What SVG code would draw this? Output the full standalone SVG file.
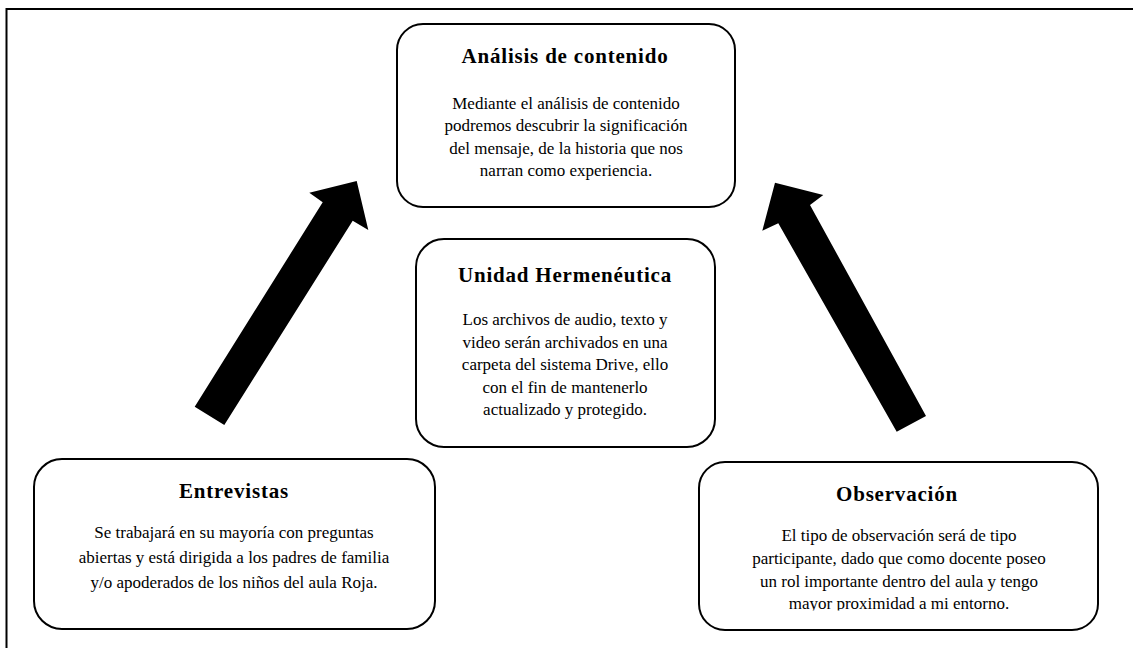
<svg xmlns="http://www.w3.org/2000/svg" width="1133" height="648" viewBox="0 0 1133 648">
<defs>
<style>
.box{fill:#fff;stroke:#000;stroke-width:2}
.title{font-family:"Liberation Serif","Times New Roman","DejaVu Serif",serif;font-weight:bold;font-size:21px;letter-spacing:0.8px;text-anchor:middle;fill:#000}
.body{font-family:"Liberation Serif","Times New Roman","DejaVu Serif",serif;font-size:17px;text-anchor:middle;fill:#000}
.arrow{fill:#000}
</style>
<clipPath id="obsClip"><rect x="699" y="462" width="400" height="148.5"/></clipPath>
</defs>
<rect width="1133" height="648" fill="#fff"/>
<path d="M6.5,650 V9 H1135" fill="none" stroke="#000" stroke-width="2"/>
<g id="connectors">
<polygon class="arrow" points="194.7,406.7 322.7,202.3 309.3,192.7 356.7,181 368.3,230 352.7,220.7 224.3,425"/>
<polygon class="arrow" points="926,416 810,205 823.3,195 775,182.7 762.3,230.7 778.3,223.3 896.7,431.7"/>
</g>
<g id="analisis">
<rect class="box" x="397" y="24" width="338" height="183" rx="26"/>
<text class="title" x="565" y="63">Análisis de contenido</text>
<text class="body" x="566" y="109">Mediante el análisis de contenido</text>
<text class="body" x="566" y="131">podremos descubrir la significación</text>
<text class="body" x="566" y="154">del mensaje, de la historia que nos</text>
<text class="body" x="566" y="176">narran como experiencia.</text>
</g>
<g id="unidad">
<rect class="box" x="416" y="239" width="299" height="208" rx="28"/>
<text class="title" x="565" y="282">Unidad Hermenéutica</text>
<text class="body" x="565" y="325">Los archivos de audio, texto y</text>
<text class="body" x="565" y="348">video serán archivados en una</text>
<text class="body" x="565" y="370">carpeta del sistema Drive, ello</text>
<text class="body" x="565" y="393">con el fin de mantenerlo</text>
<text class="body" x="565" y="415">actualizado y protegido.</text>
</g>
<g id="entrevistas">
<rect class="box" x="34" y="459" width="401" height="170" rx="28"/>
<text class="title" x="234" y="498">Entrevistas</text>
<text class="body" x="234" y="538">Se trabajará en su mayoría con preguntas</text>
<text class="body" x="234" y="563">abiertas y está dirigida a los padres de familia</text>
<text class="body" x="234" y="588">y/o apoderados de los niños del aula Roja.</text>
</g>
<g id="observacion">
<rect class="box" x="699" y="462" width="399" height="168" rx="26"/>
<text class="title" x="897" y="501">Observación</text>
<text class="body" x="899" y="541">El tipo de observación será de tipo</text>
<text class="body" x="899" y="564">participante, dado que como docente poseo</text>
<text class="body" x="899" y="587">un rol importante dentro del aula y tengo</text>
<text class="body" x="899" y="609" clip-path="url(#obsClip)">mayor proximidad a mi entorno.</text>
</g>
</svg>
